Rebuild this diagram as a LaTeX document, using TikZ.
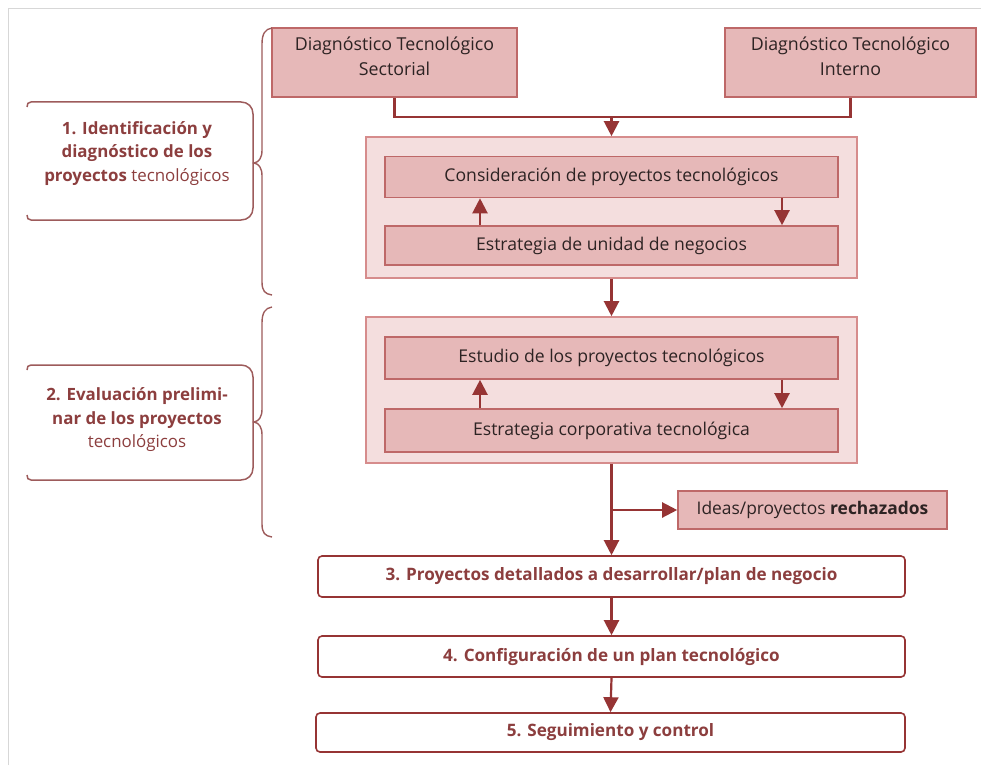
\documentclass[tikz,border=0pt]{standalone}
\usepackage{fontspec}
\setmainfont{Open Sans}
\usetikzlibrary{arrows.meta}
\definecolor{boxfill}{RGB}{230,184,184}
\definecolor{boxline}{RGB}{190,104,104}
\definecolor{outerfill}{RGB}{244,222,222}
\definecolor{outerline}{RGB}{214,140,140}
\definecolor{arrowred}{RGB}{150,52,52}
\definecolor{labelred}{RGB}{140,62,62}
\definecolor{steptext}{RGB}{140,62,62}
\definecolor{boxtext}{RGB}{45,35,35}
\definecolor{framegray}{RGB}{215,215,215}
\tikzset{
  outerbox/.style={draw=outerline, fill=outerfill, line width=1.6pt, minimum width=491pt, minimum height=141pt, inner sep=0pt},
  innerbox/.style={draw=boxline, fill=boxfill, line width=1.6pt, minimum width=453pt, minimum height=41pt, inner sep=0pt, text=boxtext, font=\fontsize{17.6}{20}\selectfont},
  diagbox/.style={draw=boxline, fill=boxfill, line width=1.6pt, minimum width=245pt, minimum height=69pt, inner sep=0pt, text=boxtext, align=center, font=\fontsize{17.8}{25}\selectfont},
  stepbox/.style={draw=arrowred, fill=white, line width=1.6pt, rounded corners=4pt, minimum width=587pt, minimum height=41pt, inner sep=0pt, text=steptext, font=\bfseries\fontsize{17.1}{20}\selectfont},
  labeltext/.style={text=labelred, align=center, font=\bfseries\fontsize{16.9}{23.5}\selectfont},
  labelframe/.style={draw=labelred!85, line width=1.5pt},
  brace/.style={draw=labelred!85, line width=1.4pt},
  conn/.style={draw=arrowred, line width=2.2pt},
  arr/.style={conn, -{Triangle[length=15pt,width=15pt]}},
}
\begin{document}
\begin{tikzpicture}[x=1pt,y=-1pt]
\useasboundingbox (0,0) rectangle (981,765);
% thin page frame
\draw[framegray, line width=1pt] (8,765) -- (8,9) -- (981,9);

% top diagnosis boxes (text sits in the upper part)
\node[diagbox, text depth=12pt] (sect) at (394.5,62.5) {Diagnóstico Tecnológico\\Sectorial};
\node[diagbox, text depth=12pt, minimum width=251pt] (int) at (850.5,62.5) {Diagnóstico Tecnológico\\Interno};

% phase 1 block
\node[outerbox] (outer1) at (611.5,207.5) {};
\node[innerbox] (cons) at (611.5,177) {Consideración de proyectos tecnológicos};
\node[innerbox, minimum height=39pt] (est1) at (611.5,245.5) {Estrategia de unidad de negocios};

% phase 2 block
\node[outerbox, minimum height=146pt] (outer2) at (611.5,390) {};
\node[innerbox, minimum height=42pt] (estu) at (611.5,358) {Estudio de los proyectos tecnológicos};
\node[innerbox, minimum height=43pt] (est2) at (611.5,430.5) {Estrategia corporativa tecnológica};

% rejected ideas
\node[diagbox, minimum width=269pt, minimum height=38pt, font=\fontsize{17.4}{20}\selectfont] (ideas) at (812.5,510) {Ideas/proyectos \textbf{rechazados}};

% numbered steps
\node[stepbox] (s3) at (611.5,576.5) {3. Proyectos detallados a desarrollar/plan de negocio};
\node[stepbox] (s4) at (611.5,656.5) {4. Configuración de un plan tecnológico};
\node[stepbox, minimum width=589pt, minimum height=39pt] (s5) at (610.5,732.5) {5. Seguimiento y control};

% helper coordinates
\coordinate (j1) at (611.5,117);
\coordinate (j2) at (611.5,510);
\coordinate (cu) at (480,0);
\coordinate (cd) at (782,0);

% connectors
\draw[conn] (sect.south) |- (j1) -| (int.south);
\draw[arr] (j1) -- (outer1.north);
\draw[arr] (est1.north -| cu) -- (cons.south -| cu);
\draw[arr] (cons.south -| cd) -- (est1.north -| cd);
\draw[arr] (outer1.south) -- (outer2.north);
\draw[arr] (est2.north -| cu) -- (estu.south -| cu);
\draw[arr] (estu.south -| cd) -- (est2.north -| cd);
\draw[arr] (outer2.south) -- (s3.north);
\draw[arr] (j2) -- (ideas.west);
\draw[arr] (s3.south) -- (s4.north);
\draw[arr] (s4.south) -- (s5.north);

% phase labels
\node[labeltext] (lab1) at (137,153.5) {1. Identificación y\\diagnóstico de los\\proyectos \mdseries tecnológicos};
\node[labeltext] (lab2) at (137,420) {2. Evaluación prelimi-\\nar de los proyectos\\\mdseries tecnológicos};

% label frames, open on the left
\draw[labelframe] (27,107) .. controls (27,104) and (28,102) .. (31,102) -- (241,102)
  .. controls (248,102) and (253,107) .. (253,114) -- (253,208)
  .. controls (253,215) and (248,220) .. (241,220) -- (31,220) .. controls (28,220) and (27,218) .. (27,215);
\draw[labelframe] (27,370) .. controls (27,367) and (28,365) .. (31,365) -- (241,365)
  .. controls (248,365) and (253,370) .. (253,377) -- (253,468)
  .. controls (253,475) and (248,480) .. (241,480) -- (31,480) .. controls (28,480) and (27,478) .. (27,475);

% braces
\draw[brace] (272,28) .. controls (265,29) and (262,34) .. (262,44) -- (262,150)
  .. controls (262,158) and (259,162) .. (254,163) .. controls (259,164) and (262,168) .. (262,176)
  -- (262,282) .. controls (262,291) and (265,294) .. (272,295);
\draw[brace] (272,307) .. controls (265,308) and (262,313) .. (262,323) -- (262,409)
  .. controls (262,417) and (259,421) .. (254,422) .. controls (259,423) and (262,427) .. (262,435)
  -- (262,524) .. controls (262,533) and (265,536) .. (272,537);
\end{tikzpicture}
\end{document}
